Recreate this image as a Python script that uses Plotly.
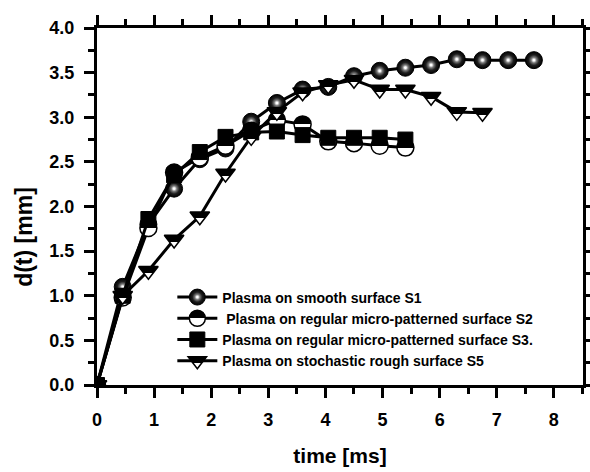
import plotly.graph_objects as go

t_s1 = [0, 0.45, 0.9, 1.35, 1.8, 2.25, 2.7, 3.15, 3.6, 4.05, 4.5, 4.95, 5.4, 5.85, 6.3, 6.75, 7.2, 7.65]
d_s1 = [0, 1.1, 1.8, 2.2, 2.53, 2.65, 2.95, 3.16, 3.31, 3.34, 3.46, 3.52, 3.555, 3.585, 3.65, 3.64, 3.64, 3.64]

t_s2 = [0, 0.45, 0.9, 1.35, 1.8, 2.25, 2.7, 3.15, 3.6, 4.05, 4.5, 4.95, 5.4]
d_s2 = [0, 0.98, 1.76, 2.38, 2.55, 2.68, 2.85, 2.97, 2.92, 2.73, 2.71, 2.68, 2.66]

t_s3 = [0, 0.45, 0.9, 1.35, 1.8, 2.25, 2.7, 3.15, 3.6, 4.05, 4.5, 4.95, 5.4]
d_s3 = [0, 1.0, 1.86, 2.35, 2.61, 2.78, 2.83, 2.84, 2.80, 2.77, 2.77, 2.77, 2.75]

t_s5 = [0, 0.45, 0.9, 1.35, 1.8, 2.25, 2.7, 3.15, 3.6, 4.05, 4.5, 4.95, 5.4, 5.85, 6.3, 6.75]
d_s5 = [0, 1.0, 1.28, 1.63, 1.89, 2.37, 2.78, 3.06, 3.28, 3.36, 3.42, 3.31, 3.31, 3.23, 3.06, 3.05]

names = [
    "Plasma on smooth surface S1",
    " Plasma on regular micro-patterned surface S2",
    "Plasma on regular micro-patterned surface S3.",
    "Plasma on stochastic rough surface S5",
]
x_title = "time [ms]"
y_title = "d(t) [mm]"

FONT = "Liberation Sans"

fig = go.Figure()
line = dict(color="black", width=3)

fig.add_trace(go.Scatter(
    x=t_s1, y=d_s1, name=names[0], mode="lines+markers", line=line,
    marker=dict(symbol="circle", size=17, color="black",
                gradient=dict(type="radial", color="white"),
                line=dict(color="black", width=1))))
fig.add_trace(go.Scatter(
    x=t_s2, y=d_s2, name=names[1], mode="lines+markers", line=line,
    marker=dict(symbol="circle", size=17, color="black",
                gradient=dict(type="vertical", color="white"),
                line=dict(color="black", width=1.5))))
fig.add_trace(go.Scatter(
    x=t_s3, y=d_s3, name=names[2], mode="lines+markers", line=line,
    marker=dict(symbol="square", size=15, color="black",
                line=dict(color="black", width=1))))
fig.add_trace(go.Scatter(
    x=t_s5, y=d_s5, name=names[3], mode="lines+markers", line=line,
    marker=dict(symbol="triangle-down", size=17, color="black",
                gradient=dict(type="vertical", color="white"),
                line=dict(color="black", width=1.5))))

axis_common = dict(
    showline=True, linecolor="black", linewidth=3, mirror="allticks",
    ticks="outside", ticklen=10, tickwidth=3, tickcolor="black",
    showgrid=False, zeroline=False, automargin=False,
    tickfont=dict(family=FONT, size=18, color="black", weight="bold"),
)

fig.update_xaxes(
    range=[0, 8.51], tick0=0, dtick=1, ticklabelstandoff=6,
    minor=dict(ticks="outside", ticklen=6, tickwidth=3, tickcolor="black", dtick=0.5),
    title=dict(text=x_title, font=dict(family=FONT, size=21, color="black", weight="bold"), standoff=20),
    **axis_common)
fig.update_yaxes(
    range=[0, 4.0], tick0=0, dtick=0.5, tickformat=".1f", ticklabelstandoff=6,
    minor=dict(ticks="outside", ticklen=6, tickwidth=3, tickcolor="black", dtick=0.25),
    **axis_common)

fig.add_annotation(
    text=y_title, textangle=-90, showarrow=False,
    xref="paper", yref="paper", x=0, y=0.415, xanchor="center", yanchor="middle",
    xshift=-73, font=dict(family=FONT, size=23, color="black", weight="bold"))

fig.update_layout(
    width=590, height=472,
    margin=dict(l=97, r=7, t=28, b=87),
    paper_bgcolor="white", plot_bgcolor="white",
    showlegend=True,
    legend=dict(x=0.155, y=0.29, xanchor="left", yanchor="top",
                bgcolor="rgba(0,0,0,0)", borderwidth=0,
                font=dict(family=FONT, size=14, color="black", weight="bold"),
                tracegroupgap=0, itemwidth=40),
)

# Sharpen the library's marker gradients: half-filled symbols and shaded spheres
post_js = """
var gd = document.getElementById('{plot_id}');
var NS = 'http://www.w3.org/2000/svg';
function addStop(g, off, col) {
  var s = document.createElementNS(NS, 'stop');
  s.setAttribute('offset', off);
  s.setAttribute('stop-color', col);
  s.setAttribute('stop-opacity', '1');
  g.appendChild(s);
}
function fixGradients() {
  gd.querySelectorAll('linearGradient').forEach(function(g) {
    var st = g.querySelectorAll('stop');
    if (st.length < 2) return;
    var c0 = st[0].getAttribute('stop-color');
    var c1 = st[st.length - 1].getAttribute('stop-color');
    while (g.firstChild) g.removeChild(g.firstChild);
    addStop(g, '0%', c0); addStop(g, '50%', c0);
    addStop(g, '50%', c1); addStop(g, '100%', c1);
  });
  gd.querySelectorAll('radialGradient').forEach(function(g) {
    var st = g.querySelectorAll('stop');
    if (st.length < 2) return;
    var c0 = st[0].getAttribute('stop-color');
    var c1 = st[st.length - 1].getAttribute('stop-color');
    while (g.firstChild) g.removeChild(g.firstChild);
    addStop(g, '0%', c0); addStop(g, '10%', c0);
    addStop(g, '32%', '#7a7a7a'); addStop(g, '62%', '#1e1e1e');
    addStop(g, '100%', c1);
  });
}
fixGradients();
"""

fig.write_html("out.html", post_script=post_js)
